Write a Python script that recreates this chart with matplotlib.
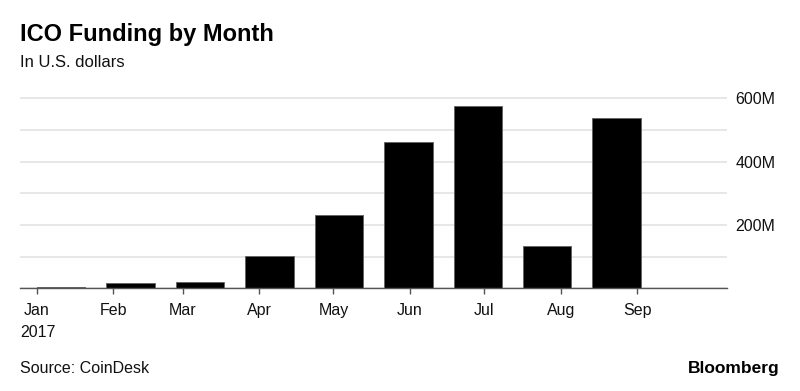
import numpy as np
import pandas as pd
import matplotlib
matplotlib.use('Agg')
import matplotlib.pyplot as plt

plt.rcParams['font.family'] = ['Liberation Sans', 'DejaVu Sans']

# ICO funding per month, 2017 (millions of USD)
months = ['Jan', 'Feb', 'Mar', 'Apr', 'May', 'Jun', 'Jul', 'Aug', 'Sep']
funding_m = [4, 17, 20, 102, 232, 463, 577, 133, 539]
y_ticks = [0, 100, 200, 300, 400, 500, 600]
y_labels = ['', '', '200M', '', '400M', '', '600M']

# month-start positions in days since Jan 1
month_days = pd.date_range('2017-01-01', periods=len(months), freq='MS').dayofyear - 1

fig = plt.figure(figsize=(8, 3.91), dpi=100)
ax = fig.add_axes([0.025, 0.263, 0.884, 0.49])

bar_step = 28.1
bar_x = np.arange(len(funding_m)) * bar_step
ax.bar(bar_x, funding_m, width=19.6, align='edge', color='black',
       edgecolor='#666666', linewidth=0.7, zorder=3)

ax.set_xlim(-6.8, 279.3)
ax.set_ylim(0, 606)

ax.set_yticks(y_ticks)
ax.set_yticklabels(y_labels)
ax.yaxis.tick_right()
ax.tick_params(axis='y', length=0, pad=6, labelsize=11.5, labelcolor='#111111')
ax.grid(axis='y', color='#e0e0e0', linewidth=1.1, zorder=0)

ax.set_xticks(month_days)
ax.set_xticklabels(months)
ax.tick_params(axis='x', length=4.5, width=1, color='#555555', pad=6,
               labelsize=11.5, labelcolor='#111111')

for s in ['top', 'left', 'right']:
    ax.spines[s].set_visible(False)
ax.spines['bottom'].set_color('#555555')
ax.spines['bottom'].set_linewidth(1)
ax.spines['bottom'].set_zorder(4)

fig.text(0.025, 0.139, '2017', fontsize=11.5, color='#111111', va='baseline')

fig.text(0.025, 0.896, 'ICO Funding by Month', fontsize=17, fontweight='bold',
         color='black', va='baseline')
fig.text(0.025, 0.829, 'In U.S. dollars', fontsize=12, color='#111111', va='baseline')

fig.text(0.025, 0.047, 'Source: CoinDesk', fontsize=11.5, color='#111111', va='baseline')
fig.text(0.974, 0.047, 'Bloomberg', fontsize=12.5, fontweight='bold',
         color='black', va='baseline', ha='right')

fig.savefig('out.png', dpi=100, facecolor='white')
